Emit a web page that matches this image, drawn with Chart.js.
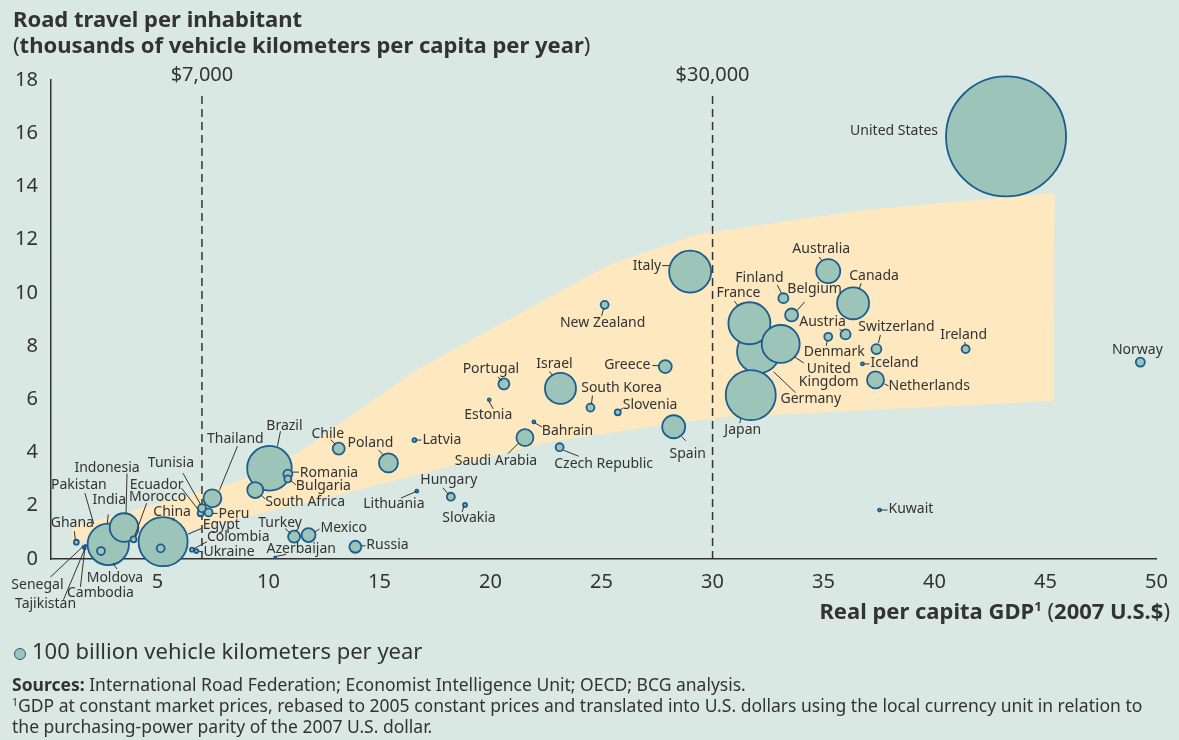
<!DOCTYPE html>
<html>
<head>
<meta charset="utf-8">
<script src="https://cdn.jsdelivr.net/npm/chart.js@4.4.0/dist/chart.umd.min.js"></script>
<style>
  body { margin: 0; background: #d9e8e3; font-family: "Noto Sans", sans-serif; color: #333; }
  #wrap { position: relative; width: 1179px; height: 740px; overflow: hidden; }
  canvas { position: absolute; left: 0; top: 0; }
  .txt { position: absolute; white-space: nowrap; }
  .title { left: 13px; top: 5px; font-size: 22px; font-weight: bold; line-height: 26px; }
  .xtitle { right: 9px; top: 597px; font-size: 22px; font-weight: bold; line-height: 26px; }
  .thin { font-weight: normal; }
  .legend { left: 14px; top: 637px; font-size: 22px; line-height: 26px; }
  .dot { display: inline-block; width: 10px; height: 10px; border-radius: 50%; background: #9dc4b9;
         border: 1.8px solid #1b5e8e; margin-right: 6px; vertical-align: -1px; }
  .notes { left: 12px; top: 674px; font-size: 17.5px; line-height: 21px; }
  sup { font-size: 0.6em; vertical-align: 0.6em; line-height: 0; }
</style>
</head>
<body>
<div id="wrap">
  <canvas id="roadChart" width="1179" height="740"></canvas>
  <div class="txt title">Road travel per inhabitant<br><span class="thin">(</span>thousands of vehicle kilometers per capita per year<span class="thin">)</span></div>
  <div class="txt xtitle">Real per capita GDP<sup>1</sup> <span class="thin">(</span>2007 U.S.$<span class="thin">)</span></div>
  <div class="txt legend"><span class="dot"></span>100 billion vehicle kilometers per year</div>
  <div class="txt notes"><b>Sources:</b> International Road Federation; Economist Intelligence Unit; OECD; BCG analysis.<br><sup>1</sup>GDP at constant market prices, rebased to 2005 constant prices and translated into U.S. dollars using the local currency unit in relation to<br>the purchasing-power parity of the 2007 U.S. dollar.</div>
</div>
<script>
// Data (list order = drawing order, later bubbles sit on top)

const countries = ['Ghana', 'Senegal', 'Tajikistan', 'Cambodia', 'Pakistan', 'India', 'Moldova', 'Indonesia',
	'Morocco', 'China', 'Egypt', 'Colombia', 'Ukraine', 'Ecuador', 'Tunisia', 'Peru', 'Thailand', 'Brazil',
	'Romania', 'Bulgaria', 'South Africa', 'Azerbaijan', 'Turkey', 'Mexico', 'Russia', 'Chile', 'Poland',
	'Latvia', 'Lithuania', 'Hungary', 'Slovakia', 'Saudi Arabia', 'Bahrain', 'Estonia', 'Portugal', 'Israel',
	'South Korea', 'Slovenia', 'Czech Republic', 'Greece', 'New Zealand', 'Spain', 'Italy', 'Germany', 'France',
	'United Kingdom', 'Japan', 'Finland', 'Belgium', 'Australia', 'Canada', 'Austria', 'Denmark', 'Switzerland',
	'Iceland', 'Netherlands', 'Ireland', 'Norway', 'Kuwait', 'United States'];

// real per capita GDP, thousands of 2007 US$
const gdp = [1.34, 1.66, 1.71, 1.75, 2.40, 2.78, 2.45, 3.49,
	3.92, 5.25, 5.14, 6.55, 6.75, 6.94, 7.00, 7.30, 7.47, 10.04,
	10.87, 10.87, 9.40, 10.30, 11.15, 11.80, 13.91, 13.16, 15.40,
	16.57, 16.68, 18.21, 18.85, 21.55, 21.95, 19.94, 20.60, 23.15,
	24.50, 25.73, 23.11, 27.87, 25.14, 28.25, 28.99, 32.07, 31.66,
	33.07, 31.72, 33.19, 33.56, 35.21, 36.33, 35.99, 35.21, 37.38,
	36.75, 37.34, 41.40, 49.27, 37.52, 43.22];

// road travel, thousand vehicle km per capita per year
const travel = [0.63, 0.45, 0.39, 0.49, 0.90, 0.55, 0.30, 1.18,
	0.74, 0.65, 0.40, 0.35, 0.30, 1.72, 1.91, 1.75, 2.28, 3.41,
	3.19, 3.01, 2.59, 0.06, 0.84, 0.90, 0.46, 4.15, 3.61,
	4.47, 2.55, 2.34, 2.03, 4.56, 5.15, 5.98, 6.58, 6.41,
	5.69, 5.51, 4.20, 7.23, 9.55, 4.97, 10.80, 7.79, 8.86,
	8.08, 6.16, 9.80, 9.17, 10.82, 9.61, 8.44, 8.35, 7.89,
	7.33, 6.73, 7.89, 7.40, 1.84, 15.88];

// total road travel, units of 100 billion vehicle km per year
const volume = [0.17, 0.03, 0.03, 0.03, 0.44, 11.9, 0.44, 5.7,
	0.25, 16.7, 0.44, 0.11, 0.11, 0.25, 0.44, 0.44, 2.25, 13.8,
	0.56, 0.34, 1.78, 0.03, 1.0, 1.36, 1.0, 1.0, 2.5,
	0.11, 0.06, 0.44, 0.11, 2.0, 0.06, 0.06, 0.84, 6.7,
	0.44, 0.25, 0.44, 1.17, 0.44, 3.67, 12.25, 12.8, 12.25,
	10.0, 17.4, 0.69, 1.17, 4.0, 7.1, 0.69, 0.44, 0.69,
	0.06, 2.0, 0.44, 0.56, 0.06, 100];

const xTicks = [5, 10, 15, 20, 25, 30, 35, 40, 45, 50];
const yTicks = [0, 2, 4, 6, 8, 10, 12, 14, 16, 18];
const thresholds = [7, 30];
const thresholdLabels = ['$7,000', '$30,000'];

// shaded corridor
const bandUpperX = [1.14, 4.65, 8.69, 11.39, 16.65, 25.32, 27.12, 29.37, 36.87, 45.41];
const bandUpperY = [1.20, 1.99, 2.93, 4.02, 7.10, 11.05, 11.57, 12.21, 13.12, 13.75];
const bandLowerX = [1.14, 6.00, 13.64, 18.13, 22.63, 28.60, 30.72, 45.37];
const bandLowerY = [0.64, 0.98, 2.52, 3.46, 4.40, 5.15, 5.34, 5.94];

// label placement: [dx, dy, align, leader x1, y1, x2, y2] in px from bubble centre
const labelPos = {
	'Ghana': [-4, -19, 'c', -2, -11, -1, -3],
	'Senegal': [-46, 38, 'c', -33, 30, -1, 0],
	'Tajikistan': [-39, 55, 'c', -21, 51, 0, 1],
	'Cambodia': [15, 47, 'c', -5, 41, -0.5, 2],
	'Pakistan': [-21, -50, 'c', -15, -42, -6, -11],
	'India': [1, -44, 'c', 0, -30, -1, -21],
	'Moldova': [14, 27, 'c', 16, 18, 12, 12],
	'Indonesia': [-17, -60, 'c', 3, -54, 2, -14],
	'Morocco': [24, -42, 'c', 13, -36, 1, -3],
	'China': [9, -30, 'c', 11, -24, 10, -21],
	'Egypt': [42, -23, 'l', 27, -14, 41, -20],
	'Colombia': [15, -13, 'l', 2, -1, 15, -8],
	'Ukraine': [7, 1, 'l', 2, 0, 6, 1],
	'Ecuador': [-44, -28, 'c', -19, -25, -2, -3],
	'Tunisia': [-31, -45, 'c', -19, -35, -1, -3],
	'Peru': [10, 2, 'l', 4, 1, 9, 1],
	'Thailand': [23, -59, 'c', 25, -52, 7, -8],
	'Brazil': [15, -42, 'c', 11, -37, 8, -22],
	'Romania': [12, -1, 'l', 5, -2, 11, -2],
	'Bulgaria': [8, 7, 'l', 2, 1, 8, 6],
	'South Africa': [10, 12, 'l', 6, 5, 10, 9],
	'Azerbaijan': [26, -8, 'c', 1, -1, 11, -3],
	'Turkey': [-14, -14, 'c', -9, -8, -3, -3],
	'Mexico': [12, -7, 'l', 6, -3, 11, -6],
	'Russia': [11, -2, 'l', 6, -1, 10, -1],
	'Chile': [-11, -15, 'c', -8, -9, -3, -4],
	'Poland': [-18, -20, 'c', -10, -13, -5, -8],
	'Latvia': [8, 0, 'l', 1, 0, 7, 0],
	'Lithuania': [-23, 13, 'c', -16, 7, 0, 0],
	'Hungary': [-2, -17, 'c', -8, -9, -2, -2],
	'Slovakia': [4, 13, 'c', -1, 1, -3, 7],
	'Saudi Arabia': [-29, 23, 'c', -17, 16, -7, 6],
	'Bahrain': [8, 9, 'l', 1, 1, 8, 5],
	'Estonia': [-1, 15, 'c', 0, 2, 4, 9],
	'Portugal': [-13, -15, 'c', -6, -7, -2, -3],
	'Israel': [-6, -24, 'c', -11, -17, -8, -13],
	'South Korea': [31, -20, 'c', 2, -12, 1, -4],
	'Slovenia': [5, -7, 'l', 2, -2, 5, -4],
	'Czech Republic': [44, 17, 'c', 4, 3, 19, 9],
	'Greece': [-15, -2, 'r', -13, -1, -7, -1],
	'New Zealand': [-2, 18, 'c', -1, 3, -3, 11],
	'Spain': [14, 27, 'c', 8, 10, 12, 14],
	'Italy': [-29, -6, 'r', -28, -6, -21, -6],
	'Germany': [22, 47, 'l', 15, 20, 37, 41],
	'France': [-11, -30, 'c', -15, -22, -11, -17],
	'United Kingdom': [48, 32, 'c', 14, 13, 23, 19],
	'Japan': [-8, 35, 'c', -10, 24, -11, 28],
	'Finland': [-24, -20, 'c', -6, -13, -2, -5],
	'Belgium': [23, -26, 'c', 13, -13, 5, -4],
	'Australia': [-7, -22, 'c', -9, -14, -6, -10],
	'Canada': [21, -27, 'c', 8, -20, 6, -14],
	'Austria': [-23, -12, 'c', -6, -5, -2, -3],
	'Denmark': [6, 15, 'c', -1, 4, -2, 9],
	'Switzerland': [20, -22, 'c', 4, -14, 2, -6],
	'Iceland': [8, -1, 'l', 1, 0, 7, 0],
	'Netherlands': [13, 6, 'l', 9, 4, 13, 6],
	'Ireland': [-2, -14, 'c', -1, -7, 0, -4],
	'Norway': [-3, -12, 'c'],
	'Kuwait': [9, -1, 'l', 1, 0, 8, 0],
	'United States': [-68, -5, 'r']
};
const labelText = { 'United Kingdom': 'United\nKingdom' };

const TEXT = '#333';
const unitRadius = 6; // px radius of the 100 billion km legend circle

// Labels, leaders and threshold captions
const labelPlugin = {
	id: 'countryLabels',
	afterDatasetsDraw(chart) {
		const ctx = chart.ctx;
		const meta = chart.getDatasetMeta(0);
		const aligns = { c: 'center', l: 'left', r: 'right' };
		ctx.save();
		ctx.fillStyle = TEXT;
		ctx.strokeStyle = TEXT;
		ctx.lineWidth = 1;
		ctx.textBaseline = 'middle';
		ctx.font = '14px "Noto Sans"';
		meta.data.forEach((pt, i) => {
			const spec = labelPos[countries[i]];
			if (!spec) return;
			const [dx, dy, al, x1, y1, x2, y2] = spec;
			if (x1 !== undefined) {
				ctx.beginPath();
				ctx.moveTo(pt.x + x1, pt.y + y1);
				ctx.lineTo(pt.x + x2, pt.y + y2);
				ctx.stroke();
			}
			ctx.textAlign = aligns[al];
			const lines = (labelText[countries[i]] || countries[i]).split('\n');
			lines.forEach((s, k) => {
				ctx.fillText(s, pt.x + dx, pt.y + dy + (k - (lines.length - 1) / 2) * 13);
			});
		});
		ctx.font = '20px "Noto Sans"';
		ctx.textAlign = 'center';
		thresholds.forEach((v, i) => {
			ctx.fillText(thresholdLabels[i], chart.scales.x.getPixelForValue(v), chart.chartArea.top - 5);
		});
		ctx.restore();
	}
};

const bubbles = countries.map((c, i) => ({ x: gdp[i], y: travel[i], r: unitRadius * Math.sqrt(volume[i]) }));
const band = bandUpperX.map((x, i) => ({ x: x, y: bandUpperY[i] }))
	.concat(bandLowerX.map((x, i) => ({ x: x, y: bandLowerY[i] })).reverse());

const dashed = v => ({
	type: 'line',
	data: [{ x: v, y: 0 }, { x: v, y: 17.45 }],
	borderColor: TEXT,
	borderWidth: 1.5,
	borderDash: [8, 5],
	pointRadius: 0,
	order: 2
});

new Chart(document.getElementById('roadChart'), {
	type: 'bubble',
	data: {
		datasets: [
			{
				data: bubbles,
				backgroundColor: '#9dc4b9',
				borderColor: '#1b5e8e',
				borderWidth: 1.8,
				clip: false,
				order: 1
			},
			{
				type: 'line',
				data: band,
				fill: 'shape',
				backgroundColor: '#fde8bf',
				borderColor: 'rgba(0,0,0,0)',
				pointRadius: 0,
				tension: 0,
				order: 3
			},
			dashed(thresholds[0]),
			dashed(thresholds[1])
		]
	},
	options: {
		responsive: false,
		animation: false,
		layout: { autoPadding: false, padding: { left: 11, top: 80, right: 20, bottom: 141 } },
		plugins: {
			legend: { display: false },
			tooltip: { enabled: false }
		},
		scales: {
			x: {
				type: 'linear',
				min: 0.2,
				max: 50,
				grid: { display: false, drawTicks: false },
				border: { color: TEXT, width: 1.5 },
				ticks: { color: TEXT, font: { family: 'Noto Sans', size: 20 }, padding: 11 },
				afterBuildTicks: s => { s.ticks = xTicks.map(v => ({ value: v })); },
				afterFit: s => { s.height = 40; }
			},
			y: {
				min: 0,
				max: 18,
				grid: { display: false, drawTicks: false },
				border: { color: TEXT, width: 1.5 },
				ticks: { color: TEXT, font: { family: 'Noto Sans', size: 20 }, padding: 13 },
				afterBuildTicks: s => { s.ticks = yTicks.map(v => ({ value: v })); },
				afterFit: s => { s.width = 40; }
			}
		}
	},
	plugins: [labelPlugin]
});
</script>
</body>
</html>
